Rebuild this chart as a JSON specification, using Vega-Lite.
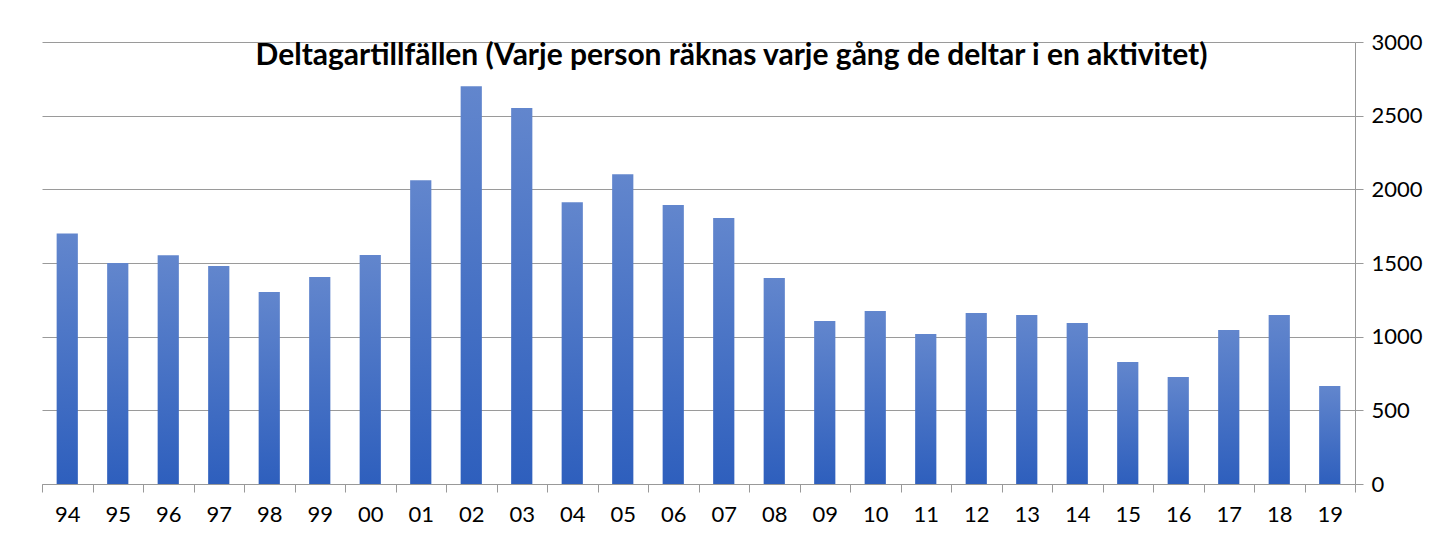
{
  "$schema": "https://vega.github.io/schema/vega-lite/v6.json",
  "width": 1313,
  "height": 442,
  "padding": {"left": 42, "top": 42, "right": 87, "bottom": 58},
  "autosize": {"type": "none"},
  "background": "white",
  "title": {
    "text": "Deltagartillfällen (Varje person räknas varje gång de deltar i en aktivitet)",
    "font": "Lato",
    "fontSize": 30,
    "fontWeight": "bold",
    "color": "#000000",
    "anchor": "middle",
    "frame": "group",
    "baseline": "top",
    "offset": -40,
    "dx": 33
  },
  "data": {
    "values": [
      {"year": "94", "value": 1700},
      {"year": "95", "value": 1500},
      {"year": "96", "value": 1552},
      {"year": "97", "value": 1480},
      {"year": "98", "value": 1303},
      {"year": "99", "value": 1405},
      {"year": "00", "value": 1555},
      {"year": "01", "value": 2062},
      {"year": "02", "value": 2700},
      {"year": "03", "value": 2552},
      {"year": "04", "value": 1912},
      {"year": "05", "value": 2102},
      {"year": "06", "value": 1893},
      {"year": "07", "value": 1805},
      {"year": "08", "value": 1398},
      {"year": "09", "value": 1106},
      {"year": "10", "value": 1174},
      {"year": "11", "value": 1018},
      {"year": "12", "value": 1160},
      {"year": "13", "value": 1147},
      {"year": "14", "value": 1093},
      {"year": "15", "value": 828},
      {"year": "16", "value": 726},
      {"year": "17", "value": 1045},
      {"year": "18", "value": 1147},
      {"year": "19", "value": 665}
    ]
  },
  "mark": {
    "type": "bar",
    "width": {"band": 0.42},
    "color": {
      "gradient": "linear",
      "x1": 0, "y1": 0, "x2": 0, "y2": 1,
      "stops": [
        {"offset": 0, "color": "#6286cd"},
        {"offset": 1, "color": "#2e5fbd"}
      ]
    }
  },
  "encoding": {
    "x": {
      "field": "year",
      "type": "nominal",
      "sort": null,
      "scale": {"paddingInner": 0, "paddingOuter": 0},
      "axis": {
        "title": null,
        "labelAngle": 0,
        "labelFont": "Lato",
        "labelFontSize": 22,
        "labelColor": "#000000",
        "labelPadding": 12,
        "tickBand": "extent",
        "tickSize": 8,
        "tickColor": "#999999",
        "domainColor": "#999999",
        "grid": false
      }
    },
    "y": {
      "field": "value",
      "type": "quantitative",
      "scale": {"domain": [0, 3000]},
      "axis": {
        "orient": "right",
        "title": null,
        "format": "d",
        "values": [0, 500, 1000, 1500, 2000, 2500, 3000],
        "labelFont": "Lato",
        "labelFontSize": 22,
        "labelColor": "#000000",
        "labelPadding": 8,
        "tickSize": 8,
        "tickColor": "#999999",
        "domainColor": "#999999",
        "gridColor": "#9a9a9a",
        "grid": true
      }
    }
  },
  "config": {
    "view": {"stroke": null}
  }
}
